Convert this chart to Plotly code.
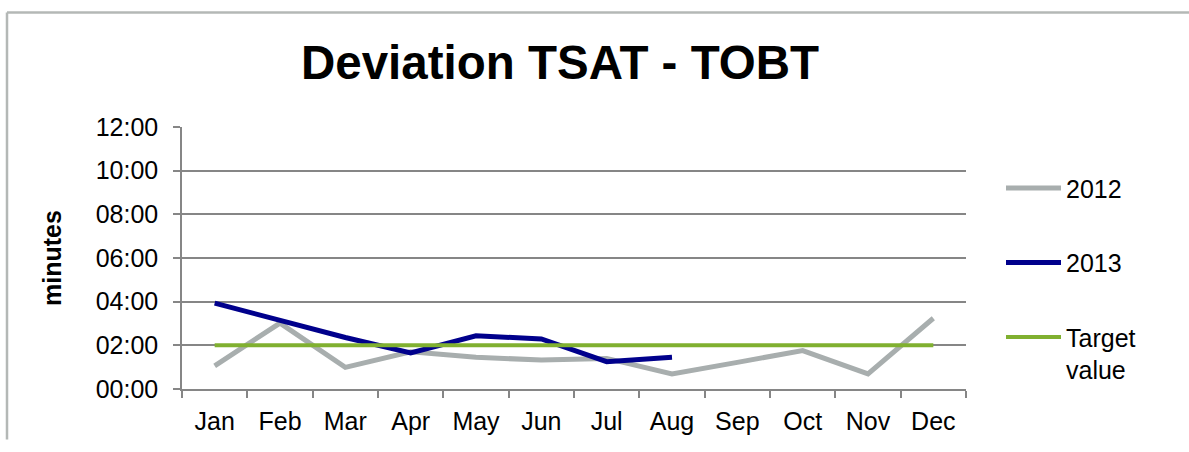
import plotly.graph_objects as go

months = ["Jan", "Feb", "Mar", "Apr", "May", "Jun", "Jul", "Aug", "Sep", "Oct", "Nov", "Dec"]
# values in minutes
dev_2012 = [1.06, 3.02, 0.99, 1.70, 1.45, 1.33, 1.40, 0.69, 1.22, 1.76, 0.69, 3.24]
dev_2013 = [3.93, 3.14, 2.36, 1.65, 2.44, 2.29, 1.25, 1.45, None, None, None, None]
target = [2, 2, 2, 2, 2, 2, 2, 2, 2, 2, 2, 2]
y_tickvals = [0, 2, 4, 6, 8, 10, 12]
y_ticktext = ["00:00", "02:00", "04:00", "06:00", "08:00", "10:00", "12:00"]

FONT = "Liberation Sans, Arial, sans-serif"

fig = go.Figure()
fig.add_trace(go.Scatter(x=months, y=dev_2012, name="2012", mode="lines",
                         line=dict(color="#a8aeae", width=5), legendgroup="a"))
fig.add_trace(go.Scatter(x=months, y=dev_2013, name="2013", mode="lines",
                         line=dict(color="#00008c", width=5), legendgroup="b"))
fig.add_trace(go.Scatter(x=months, y=target, name="Target<br>value", mode="lines",
                         line=dict(color="#80b030", width=4), legendgroup="c"))

L, R, T, B = 182, 966, 126.7, 389.3
W, H = 1189, 452
pw, ph = R - L, B - T

def px(x):
    return (x - L) / pw

def py(y):
    return (B - y) / ph

fig.update_layout(
    width=W, height=H,
    margin=dict(l=L, r=W - R, t=T, b=H - B, pad=0),
    paper_bgcolor="white", plot_bgcolor="white",
    font=dict(family=FONT, size=25, color="black"),
    title=dict(text="<b>Deviation TSAT - TOBT</b>", font=dict(family=FONT, size=47.5, color="black"),
               x=560 / W, xanchor="center", xref="container",
               y=1 - 62 / H, yanchor="middle", yref="container"),
    showlegend=True,
    legend=dict(x=px(1001), xanchor="left", y=py(165), yanchor="top",
                font=dict(family=FONT, size=25, color="black"),
                traceorder="grouped", tracegroupgap=39, itemwidth=55, valign="top",
                bgcolor="rgba(0,0,0,0)"),
    xaxis=dict(type="category", categoryorder="array", categoryarray=months,
               range=[-0.5, 11.5], showgrid=False, zeroline=False,
               showline=True, linecolor="#868686", linewidth=1.5,
               ticks="outside", ticklen=7, tickcolor="#868686", tickwidth=1.5,
               tickson="boundaries", ticklabelstandoff=9,
               tickfont=dict(family=FONT, size=25, color="black"),
               fixedrange=True),
    yaxis=dict(range=[0, 12], tickvals=y_tickvals, ticktext=y_ticktext,
               showgrid=True, gridcolor="#868686", gridwidth=1.5, zeroline=False,
               showline=True, linecolor="#868686", linewidth=1.5,
               ticks="outside", ticklen=7, tickcolor="#868686", tickwidth=1.5,
               ticklabelstandoff=10,
               tickfont=dict(family=FONT, size=25, color="black"),
               title=dict(text="<b>minutes</b>", font=dict(family=FONT, size=25, color="black"),
                          standoff=27),
               automargin=False, fixedrange=True),
    shapes=[
        dict(type="line", xref="paper", yref="paper", x0=px(7), x1=px(1195), y0=py(12), y1=py(12),
             line=dict(color="#b4b8b6", width=2.5)),
        dict(type="line", xref="paper", yref="paper", x0=px(7), x1=px(7), y0=py(12), y1=py(440),
             line=dict(color="#b4b8b6", width=2.5)),
    ],
)

fig.write_html("out.html", config={"displayModeBar": False},
               post_script="document.body.style.margin='0';document.body.style.overflow='hidden';")
